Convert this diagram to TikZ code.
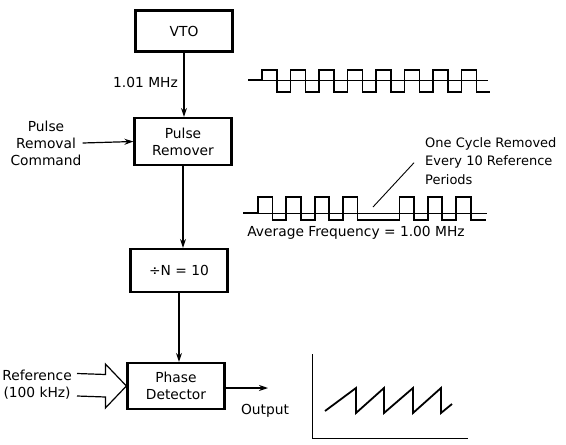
\documentclass[tikz,border=0pt]{standalone}
\usepackage{fontspec}
\setmainfont{DejaVu Sans}
\usepackage{tikz}
\usetikzlibrary{arrows.meta, positioning}

\begin{document}
\begin{tikzpicture}[
  x=1pt, y=-1pt,
  font=\fontsize{13.8}{17}\selectfont,
  block/.style={draw, line width=2.2pt, minimum width=97pt, minimum height=43pt,
                align=center, inner sep=2pt},
  flow/.style={-{Stealth[length=9pt,width=6pt]}, line width=1.2pt},
  wave/.style={line width=1.8pt, line join=miter},
  axis/.style={line width=0.6pt},
  lbl/.style={align=center, inner sep=1pt}
]
\useasboundingbox (0,0) rectangle (566,445);
\node[block, minimum height=41pt] (vto) at (184,31)    {VTO};
\node[block, minimum height=47pt] (rem) at (183,141.5) {Pulse\\Remover};
\node[block] (div) at (179,270.5)                     {÷N = 10};
\node[block, minimum height=46pt] (pd)  at (176,386)   {Phase\\Detector};
\draw[flow] (vto.south) -- (vto.south |- rem.north);
\draw[flow] (rem.south) -- (rem.south |- div.north);
\draw[flow] (div.south) -- (div.south |- pd.north);
\node[lbl, anchor=east] (fin) at (179,82) {1.01 MHz};
\node[lbl] (cmd) at (46,143) {Pulse\\Removal\\Command};
\draw[flow] (cmd.east) -- (rem.west);
\node[lbl, anchor=east] (ref) at (73,385) {Reference\\(100 kHz)};
\draw[line width=1.2pt, line join=miter]
  ([xshift=4pt,yshift=11.5pt]ref.east) -- ([xshift=-21pt,yshift=11.5pt]pd.west)
  -- ([xshift=-21pt,yshift=22pt]pd.west) -- (pd.west)
  -- ([xshift=-21pt,yshift=-22pt]pd.west) -- ([xshift=-21pt,yshift=-11pt]pd.west)
  -- ([xshift=4pt,yshift=-11pt]ref.east);
\coordinate (out) at (268,388);
\draw[flow] (pd.east |- out) -- (out);
\node[lbl] (outl) at (265,411) {Output};

\draw[axis] (248,80) -- (488,80);
\draw[wave] (248,80) -- (262,80) -- (262,70)
  foreach \k in {1,...,7}{ -- ++(15,0) -- ++(0,22) -- ++(13.5,0) -- ++(0,-22) }
  -- ++(15,0) -- ++(0,22) -- ++(13.5,0);

\draw[axis] (243,213) -- (487,213);
\draw[wave] (243,213) -- (258,213) -- (258,197)
  foreach \k in {1,...,3}{ -- ++(14.5,0) -- ++(0,23) -- ++(13.8,0) -- ++(0,-23) }
  -- ++(14.5,0) -- ++(0,23) -- ++(42.1,0) -- ++(0,-23)
  foreach \k in {1,...,2}{ -- ++(14.5,0) -- ++(0,23) -- ++(13.8,0) -- ++(0,-23) }
  -- ++(14.5,0) -- ++(0,23) -- ++(15,0);
\node[align=left, anchor=north west, inner sep=0pt,
      font=\fontsize{13}{18.5}\selectfont] (note) at (425,137)
  {One Cycle Removed\\Every 10 Reference\\Periods};
\coordinate (gap) at (373,207);
\draw[line width=0.9pt] (gap) -- ([xshift=-11pt,yshift=-2pt]note.west);
\node[lbl] (avg) at (356,233) {Average Frequency = 1.00 MHz};

\draw[axis, line width=1pt] (312,354) -- (312,438) -- (468,438);
\draw[wave] (325,411) -- (356,388) -- (356,413) -- (384,388) -- (384,413)
  -- (413,388) -- (413,413) -- (441,388) -- (441,413) -- (452,404);
\end{tikzpicture}
\end{document}
